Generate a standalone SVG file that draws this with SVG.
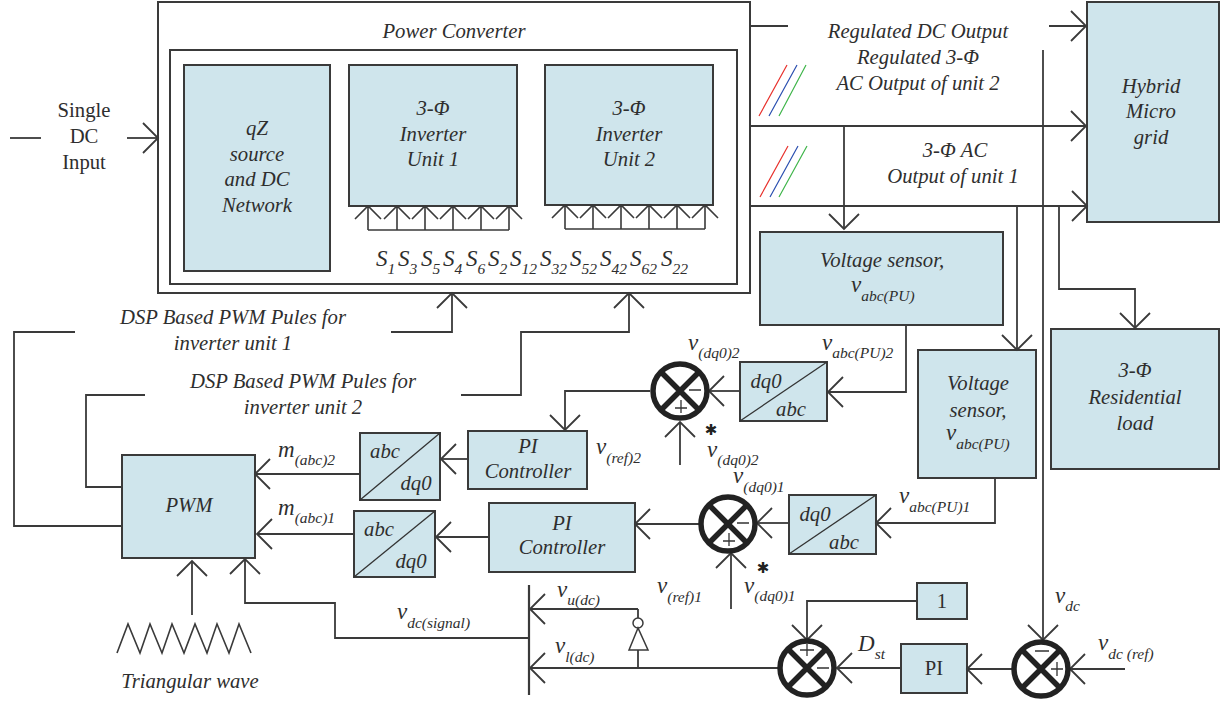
<svg xmlns="http://www.w3.org/2000/svg" width="1221" height="703" viewBox="0 0 1221 703">
<style>
text{font-family:"Liberation Serif",serif;font-size:20.7px;fill:#2e2e2e;font-style:italic}
.r{font-style:normal}
.m{text-anchor:middle}
.s{font-size:15.5px}
.S{font-size:23px}
.b{fill:#cfe5ec;stroke:#3a3a3a;stroke-width:2}
.w{fill:none;stroke:#3a3a3a;stroke-width:2.2}
.c{fill:none;stroke:#3a3a3a;stroke-width:1.8}
.a{marker-end:url(#ar)}
.t{fill:none;stroke:#3a3a3a;stroke-width:1.6}
.sum{fill:#fff;stroke:#222;stroke-width:5.5}
.x{stroke:#222;stroke-width:5.5}
.p{stroke:#333;stroke-width:1.3;fill:none}
.star{font-family:"DejaVu Sans",sans-serif;font-size:15px;font-style:normal;fill:#222;text-anchor:middle}
</style>
<defs>
<marker id="ar" markerUnits="userSpaceOnUse" markerWidth="34" markerHeight="34" viewBox="-17 -17 34 34" refX="0" refY="0" orient="auto" overflow="visible"><path d="M-15,-15L0,0L-15,15" fill="none" stroke="#3a3a3a" stroke-width="1.8"/></marker>
<g id="sumd"><circle r="27" class="sum"/><path d="M-19,-19L19,19M19,-19L-19,19" class="x"/></g>
</defs>

<g id="converter"><rect x="158" y="2" width="592" height="291" fill="#fff" stroke="#3a3a3a" stroke-width="2"/><rect x="170" y="50" width="567" height="234" fill="#fff" stroke="#3a3a3a" stroke-width="2"/><text x="454" y="38" class="m">Power Converter</text></g>
<g id="qz"><rect class="b" x="184" y="65" width="146" height="206"/><text class="m" x="257" y="135">qZ</text><text class="m" x="257" y="161">source</text><text class="m" x="257" y="186">and DC</text><text class="m" x="257" y="212">Network</text></g>
<g id="inv1"><rect class="b" x="349" y="65" width="168" height="141"/><text class="m" x="433" y="115">3-Φ</text><text class="m" x="433" y="141">Inverter</text><text class="m" x="433" y="166">Unit 1</text></g>
<g id="inv2"><rect class="b" x="545" y="65" width="168" height="140"/><text class="m" x="629" y="115">3-Φ</text><text class="m" x="629" y="141">Inverter</text><text class="m" x="629" y="166">Unit 2</text></g>
<g id="switches">
<text class="S" x="376" y="266">S<tspan class="s" dy="8">1</tspan></text><text class="S" x="398" y="266">S<tspan class="s" dy="8">3</tspan></text><text class="S" x="421" y="266">S<tspan class="s" dy="8">5</tspan></text><text class="S" x="443" y="266">S<tspan class="s" dy="8">4</tspan></text><text class="S" x="466" y="266">S<tspan class="s" dy="8">6</tspan></text><text class="S" x="488" y="266">S<tspan class="s" dy="8">2</tspan></text><text class="S" x="510" y="266">S<tspan class="s" dy="8">12</tspan></text><text class="S" x="540" y="266">S<tspan class="s" dy="8">32</tspan></text><text class="S" x="570" y="266">S<tspan class="s" dy="8">52</tspan></text><text class="S" x="600" y="266">S<tspan class="s" dy="8">42</tspan></text><text class="S" x="630" y="266">S<tspan class="s" dy="8">62</tspan></text><text class="S" x="661" y="266">S<tspan class="s" dy="8">22</tspan></text>
</g>
<g id="hybrid"><rect class="b" x="1087" y="2" width="132" height="220"/><text class="m" x="1151" y="93">Hybrid</text><text class="m" x="1151" y="118">Micro</text><text class="m" x="1151" y="144">grid</text></g>
<g id="load"><rect class="b" x="1051" y="329" width="168" height="140"/><text class="m" x="1135" y="377">3-Φ</text><text class="m" x="1135" y="404">Residential</text><text class="m" x="1135" y="430">load</text></g>
<g id="sensor1"><rect class="b" x="760" y="232" width="243" height="93"/><text class="m" x="882" y="267">Voltage sensor,</text><text x="851" y="292" class="S">v<tspan class="s" dy="9">abc(PU)</tspan></text></g>
<g id="sensor2"><rect class="b" x="918" y="350" width="118" height="128"/><text class="m" x="978" y="390">Voltage</text><text class="m" x="978" y="417">sensor,</text><text x="946" y="440" class="S">v<tspan class="s" dy="9">abc(PU)</tspan></text></g>
<g id="dq1"><rect class="b" x="740" y="362" width="87" height="59"/><path class="p" d="M740,421L827,362"/><text class="m" x="766" y="388">dq0</text><text class="m" x="791" y="416">abc</text></g>
<g id="dq2"><rect class="b" x="789" y="495" width="87" height="59"/><path class="p" d="M789,554L876,495"/><text class="m" x="815" y="521">dq0</text><text class="m" x="844" y="549">abc</text></g>
<g id="abc2"><rect class="b" x="360" y="433" width="80" height="67"/><path class="p" d="M360,500L440,433"/><text class="m" x="385" y="458">abc</text><text class="m" x="416" y="490">dq0</text></g>
<g id="abc1"><rect class="b" x="354" y="511" width="81" height="66"/><path class="p" d="M354,577L435,511"/><text class="m" x="379" y="536">abc</text><text class="m" x="411" y="568">dq0</text></g>
<g id="pi2"><rect class="b" x="468" y="431" width="119" height="58"/><text class="m" x="528" y="453">PI</text><text class="m" x="528" y="478">Controller</text></g>
<g id="pi1"><rect class="b" x="489" y="503" width="146" height="69"/><text class="m" x="562" y="530">PI</text><text class="m" x="562" y="554">Controller</text></g>
<g id="pwm"><rect class="b" x="122" y="455" width="133" height="103"/><text class="m" x="189" y="512">PWM</text></g>
<g id="one"><rect class="b" x="917" y="583" width="50" height="36"/><text class="m r" x="942" y="608">1</text></g>
<g id="pi3"><rect class="b" x="901" y="644" width="66" height="49"/><text class="m r" x="934" y="675">PI</text></g>

<g id="connectors">
<path class="c" d="M10,138H41"/><path class="c a" d="M127,138H158"/>
<path class="c" d="M750,26H788"/><path class="c a" d="M1049,26H1086"/>
<path class="w a" d="M750,126H1086"/><path class="w a" d="M750,206H1087"/>
<path class="c a" d="M844,126V229"/>
<path class="c a" d="M1017,206V350"/>
<path class="c a" d="M1043,50V640"/>
<path class="c a" d="M1059,206V289H1135V328"/>
<path class="c a" d="M906,325V392H828"/>
<path class="c a" d="M740,391H709"/>
<path class="c a" d="M650,391H565V430"/>
<path class="c a" d="M680,465V422"/>
<path class="c a" d="M468,459H441"/>
<path class="c a" d="M360,474H255"/>
<path class="c a" d="M354,534H257"/>
<path class="c a" d="M489,537H436"/>
<path class="c a" d="M995,478V523H876"/>
<path class="c a" d="M789,523H757"/>
<path class="c a" d="M699,524H635"/>
<path class="c a" d="M731,609V553"/>
<path class="w" d="M529,585V695"/>
<path class="c a" d="M638,609H530"/>
<path class="c" d="M638,609V618"/>
<path class="c a" d="M778,668H530"/>
<path class="c" d="M638,668V650"/>
<path class="c a" d="M917,601H807V640"/>
<path class="c a" d="M901,668H837"/>
<path class="c a" d="M1012,669H967"/>
<path class="c a" d="M1125,669H1070"/>
<path class="c a" d="M529,638H335V603H245V559"/>
<path class="c a" d="M192,615V561"/>
<path class="c" d="M122,526H14V332H75"/>
<path class="c" d="M122,487H86V395H145"/>
<path class="c a" d="M391,332H452V293"/>
<path class="c a" d="M461,395H521V332H629V293"/>
<path class="t" d="M368,230V206M397,230V206M425,230V206M453,230V206M481,230V206M509,230V206M368,230H509" />
<path class="t" d="M565,229V205M593,229V205M621,229V205M649,229V205M677,229V205M705,229V205M565,229H705"/>
<path class="t" d="M355,219L368,206L381,219M384,219L397,206L410,219M412,219L425,206L438,219M440,219L453,206L466,219M468,219L481,206L494,219M496,219L509,206L522,219"/>
<path class="t" d="M552,218L565,205L578,218M580,218L593,205L606,218M608,218L621,205L634,218M636,218L649,205L662,218M664,218L677,205L690,218M692,218L705,205L718,218"/>
<path d="M117,653L128,624L140,653L150,624L162,653L172,624L184,653L195,624L207,653L217,624L229,653L239,624L251,653" class="t"/>
</g>
<g id="threephase" fill="none" stroke-width="1.2">
<path stroke="#e8312c" d="M759,116L787,65M760,197L788,146"/><path stroke="#2a4fb0" d="M769,116L797,65M770,197L798,146"/><path stroke="#3fb54a" d="M779,116L806,65M779,197L807,146"/>
</g>
<g id="inverter-gate"><circle cx="638" cy="623" r="5" fill="#fff" stroke="#3a3a3a" stroke-width="1.5"/><path d="M638,628L629,650H648Z" fill="#fff" stroke="#3a3a3a" stroke-width="1.5"/></g>
<g id="sum1" transform="translate(680,391)"><use href="#sumd"/><path class="p" d="M1,9V22M-5,17H7M9,-1H21"/></g>
<g id="sum2" transform="translate(728,524)"><use href="#sumd"/><path class="p" d="M1,9V22M-5,17H7M9,-1H21"/></g>
<g id="sum3" transform="translate(807,668)"><use href="#sumd"/><path class="p" d="M0,-24V-12M-7,-18H7M10,0H22"/></g>
<g id="sum4" transform="translate(1041,669)"><use href="#sumd"/><path class="p" d="M-6,-18H8M10,0H22M16,-7V7"/></g>
<g id="labels">
<text class="m r" x="84" y="117">Single</text><text class="m r" x="84" y="143">DC</text><text class="m r" x="84" y="169">Input</text>
<text class="m" x="918" y="38">Regulated DC Output</text><text class="m" x="918" y="64">Regulated 3-Φ</text><text class="m" x="918" y="90">AC Output of unit 2</text>
<text class="m" x="955" y="157">3-Φ AC</text><text class="m" x="953" y="183">Output of unit 1</text>
<text class="m" x="233" y="324">DSP Based PWM Pules for</text><text class="m" x="233" y="350">inverter unit 1</text>
<text class="m" x="303" y="388">DSP Based PWM Pules for</text><text class="m" x="303" y="414">inverter unit 2</text>
<text class="m" x="190" y="688">Triangular wave</text>
<text x="688" y="350" class="S">v<tspan class="s" dy="8">(dq0)2</tspan></text>
<text x="822" y="350" class="S">v<tspan class="s" dy="8">abc(PU)2</tspan></text>
<text x="707" y="457" class="S">v<tspan class="s" dy="8">(dq0)2</tspan></text>
<text x="596" y="454" class="S">v<tspan class="s" dy="9">(ref)2</tspan></text>
<text x="733" y="483" class="S">v<tspan class="s" dy="9">(dq0)1</tspan></text>
<text x="899" y="503" class="S">v<tspan class="s" dy="9">abc(PU)1</tspan></text>
<text x="278" y="457" class="S">m<tspan class="s" dy="8">(abc)2</tspan></text>
<text x="278" y="515" class="S">m<tspan class="s" dy="8">(abc)1</tspan></text>
<text x="657" y="593" class="S">v<tspan class="s" dy="9">(ref)1</tspan></text>
<text x="744" y="593" class="S">v<tspan class="s" dy="8">(dq0)1</tspan></text>
<text x="557" y="597" class="S">v<tspan class="s" dy="8">u(dc)</tspan></text>
<text x="555" y="653" class="S">v<tspan class="s" dy="9">l(dc)</tspan></text>
<text x="397" y="619" class="S">v<tspan class="s" dy="9">dc(signal)</tspan></text>
<text x="858" y="651" class="S">D<tspan class="s" dy="8">st</tspan></text>
<text x="1055" y="603" class="S">v<tspan class="s" dy="8">dc</tspan></text>
<text x="1098" y="650" class="S">v<tspan class="s" dy="9">dc (ref)</tspan></text>
<text x="711" y="435" class="star">✱</text>
<text x="763" y="573" class="star">✱</text>
</g>
</svg>
